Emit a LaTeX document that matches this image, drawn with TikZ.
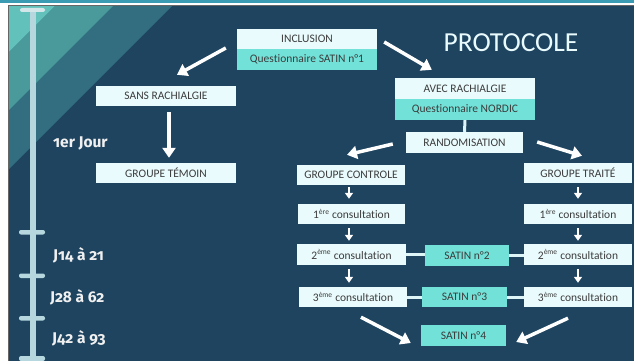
\documentclass[tikz,border=0pt]{standalone}
\usepackage{fontspec}
\setmainfont{Carlito}[Ligatures=NoCommon]
\newfontfamily\labfont[Numbers=OldStyle]{Fira Sans}
\usetikzlibrary{arrows.meta,calc}
\definecolor{panel}{HTML}{1E4460}
\definecolor{stripeA}{HTML}{62C2BB}
\definecolor{stripeB}{HTML}{4A9A9C}
\definecolor{stripeC}{HTML}{326E80}
\definecolor{boxw}{HTML}{EAFBFD}
\definecolor{boxt}{HTML}{72E2D9}
\definecolor{txt}{HTML}{3C3C3C}
\definecolor{tline}{HTML}{B6D7DD}
\definecolor{topbar}{HTML}{3A9BB2}
\definecolor{linkc}{HTML}{DDF5F7}
\tikzset{
  wbox/.style={fill=boxw, text=txt, inner sep=0pt, font=\fontsize{11.5}{13}\selectfont},
  tbox/.style={fill=boxt, text=txt, inner sep=0pt, font=\fontsize{11.5}{13}\selectfont},
  big/.style={draw=white, line width=3.5pt, -{Triangle[length=10pt,width=13pt]}},
  small/.style={draw=white, line width=2pt, -{Triangle[length=6pt,width=8pt]}},
  link/.style={draw=linkc, line width=3pt},
  lab/.style={text=white!94!black, font=\labfont\bfseries\fontsize{15.5}{17}\selectfont, anchor=west, inner sep=0pt},
  tick/.style={fill=tline, rounded corners=2pt}
}
\newcommand{\sups}[1]{\textsuperscript{\fontsize{7.5}{8}\selectfont #1}}
\begin{document}
\begin{tikzpicture}[x=1pt,y=-1pt]
\useasboundingbox (0,0) rectangle (634,361);
\fill[white] (0,0) rectangle (634,361);
% frame
\fill[topbar] (0,0) rectangle (634,3);
\fill[black!60] (8,5) rectangle (634,6.5);
\fill[black!60] (8,5) rectangle (9,361);
\fill[panel] (9,6.5) rectangle (634,361);
% stripes
\begin{scope}
\clip (9,6.5) rectangle (634,361);
\fill[stripeC] (113,6) -- (172,6) -- (9,169) -- (9,110) -- cycle;
\fill[stripeB] (55,6) -- (113,6) -- (9,110) -- (9,52) -- cycle;
\fill[stripeA] (9,6) -- (55,6) -- (9,52) -- cycle;
\end{scope}
% timeline
\fill[tline] (30,9) rectangle (36,359);
\fill[white!40!tline, rounded corners=2pt] (20,8) rectangle (45,12);
\fill[tick] (19,230) rectangle (45,234.5);
\fill[tick] (19,273.5) rectangle (45,278);
\fill[tick] (19,316) rectangle (45,320.5);
\fill[tick] (19,356) rectangle (45,361);
% timeline labels
\node[lab] (l1) at (53,143) {1er Jour};
\node[lab] (l2) at (53,255) {J14 à 21};
\node[lab] (l3) at (50,297) {J28 à 62};
\node[lab] (l4) at (52,338) {J42 à 93};
% title
\node[text=boxw, font=\fontsize{27.5}{30}\selectfont, inner sep=0pt] (title) at (511,43) {PROTOCOLE};
% boxes
\node[wbox, minimum width=140pt, minimum height=20pt] (incl) at (307,39) {INCLUSION};
\node[tbox, minimum width=140pt, minimum height=21pt] (q1) at (307,59.5) {Questionnaire SATIN n°1};
\node[wbox, minimum width=140pt, minimum height=20pt] (sans) at (166,96) {SANS RACHIALGIE};
\node[wbox, minimum width=140pt, minimum height=20pt] (temoin) at (166,173) {GROUPE TÉMOIN};
\node[wbox, minimum width=140pt, minimum height=21pt] (avec) at (465,88.5) {AVEC RACHIALGIE};
\node[tbox, minimum width=140pt, minimum height=21pt] (nordic) at (465,109.5) {Questionnaire NORDIC};
\node[wbox, minimum width=117pt, minimum height=21pt] (rando) at (464.5,142.5) {RANDOMISATION};
\node[wbox, minimum width=108pt, minimum height=20pt] (gc) at (351,175) {GROUPE CONTROLE};
\node[wbox, minimum width=108pt, minimum height=20pt] (gt) at (578,173) {GROUPE TRAITÉ};
\node[wbox, minimum width=107pt, minimum height=20pt] (c1l) at (351.5,214) {1\sups{ère} consultation};
\node[wbox, minimum width=108pt, minimum height=20pt] (c1r) at (578,214) {1\sups{ère} consultation};
\node[wbox, minimum width=109pt, minimum height=21pt] (c2l) at (351.5,254.5) {2\sups{ème} consultation};
\node[wbox, minimum width=108pt, minimum height=21pt] (c2r) at (578,254.5) {2\sups{ème} consultation};
\node[tbox, minimum width=84pt, minimum height=21pt] (s2) at (467,255.5) {SATIN n°2};
\node[wbox, minimum width=108pt, minimum height=20pt] (c3l) at (353,297) {3\sups{ème} consultation};
\node[wbox, minimum width=108pt, minimum height=20pt] (c3r) at (578,297) {3\sups{ème} consultation};
\node[tbox, minimum width=85pt, minimum height=20pt] (s3) at (464.5,297) {SATIN n°3};
\node[tbox, minimum width=85pt, minimum height=21pt] (s4) at (463.5,335.5) {SATIN n°4};
% big arrows
\draw[big] ($(incl.west)+(-11,9)$) -- ($(sans.north)+(11,-11)$);
\draw[big] ($(incl.east)+(7,3)$) -- ($(avec.north west)+(37,-8)$);
\draw[big] ([xshift=3pt]sans.south) ++(0,6) -- ($(temoin.north)+(3,-5)$);
\draw[big] ($(rando.west)+(-13,1.5)$) -- ($(gc.north)+(-4,-10)$);
\draw[big] ($(rando.east)+(14,-0.5)$) -- ($(gt.north)+(4,-7)$);
\draw[big] ($(c3l.south)+(8,10)$) -- ($(s4.west)+(-10,7.5)$);
\draw[big] ($(c3r.south)+(-10,11)$) -- ($(s4.east)+(10,6.5)$);
% links
\draw[link] (nordic.south) -- (rando.north);
\draw[link] (c2l.east) -- (c2l.east -| s2.west);
\draw[link] (s2.east) -- (s2.east -| c2r.west);
\draw[link] (c3l.east) -- (s3.west);
\draw[link] (s3.east) -- (c3r.west);
% small arrows
\draw[small] ($(gc.south)+(-2,2)$) -- ($(c1l.north)+(-2.5,-5)$);
\draw[small] ($(c1l.south)+(-2.5,4)$) -- ($(c2l.north)+(-2.5,-3)$);
\draw[small] ($(c2l.south)+(-2.5,4)$) -- ($(c3l.north)+(-4,-4)$);
\draw[small] ($(gt.south)+(0,4)$) -- ($(c1r.north)+(0,-5)$);
\draw[small] ($(c1r.south)+(0,4)$) -- ($(c2r.north)+(0,-3)$);
\draw[small] ($(c2r.south)+(0,4)$) -- ($(c3r.north)+(0,-4)$);
\end{tikzpicture}
\end{document}
